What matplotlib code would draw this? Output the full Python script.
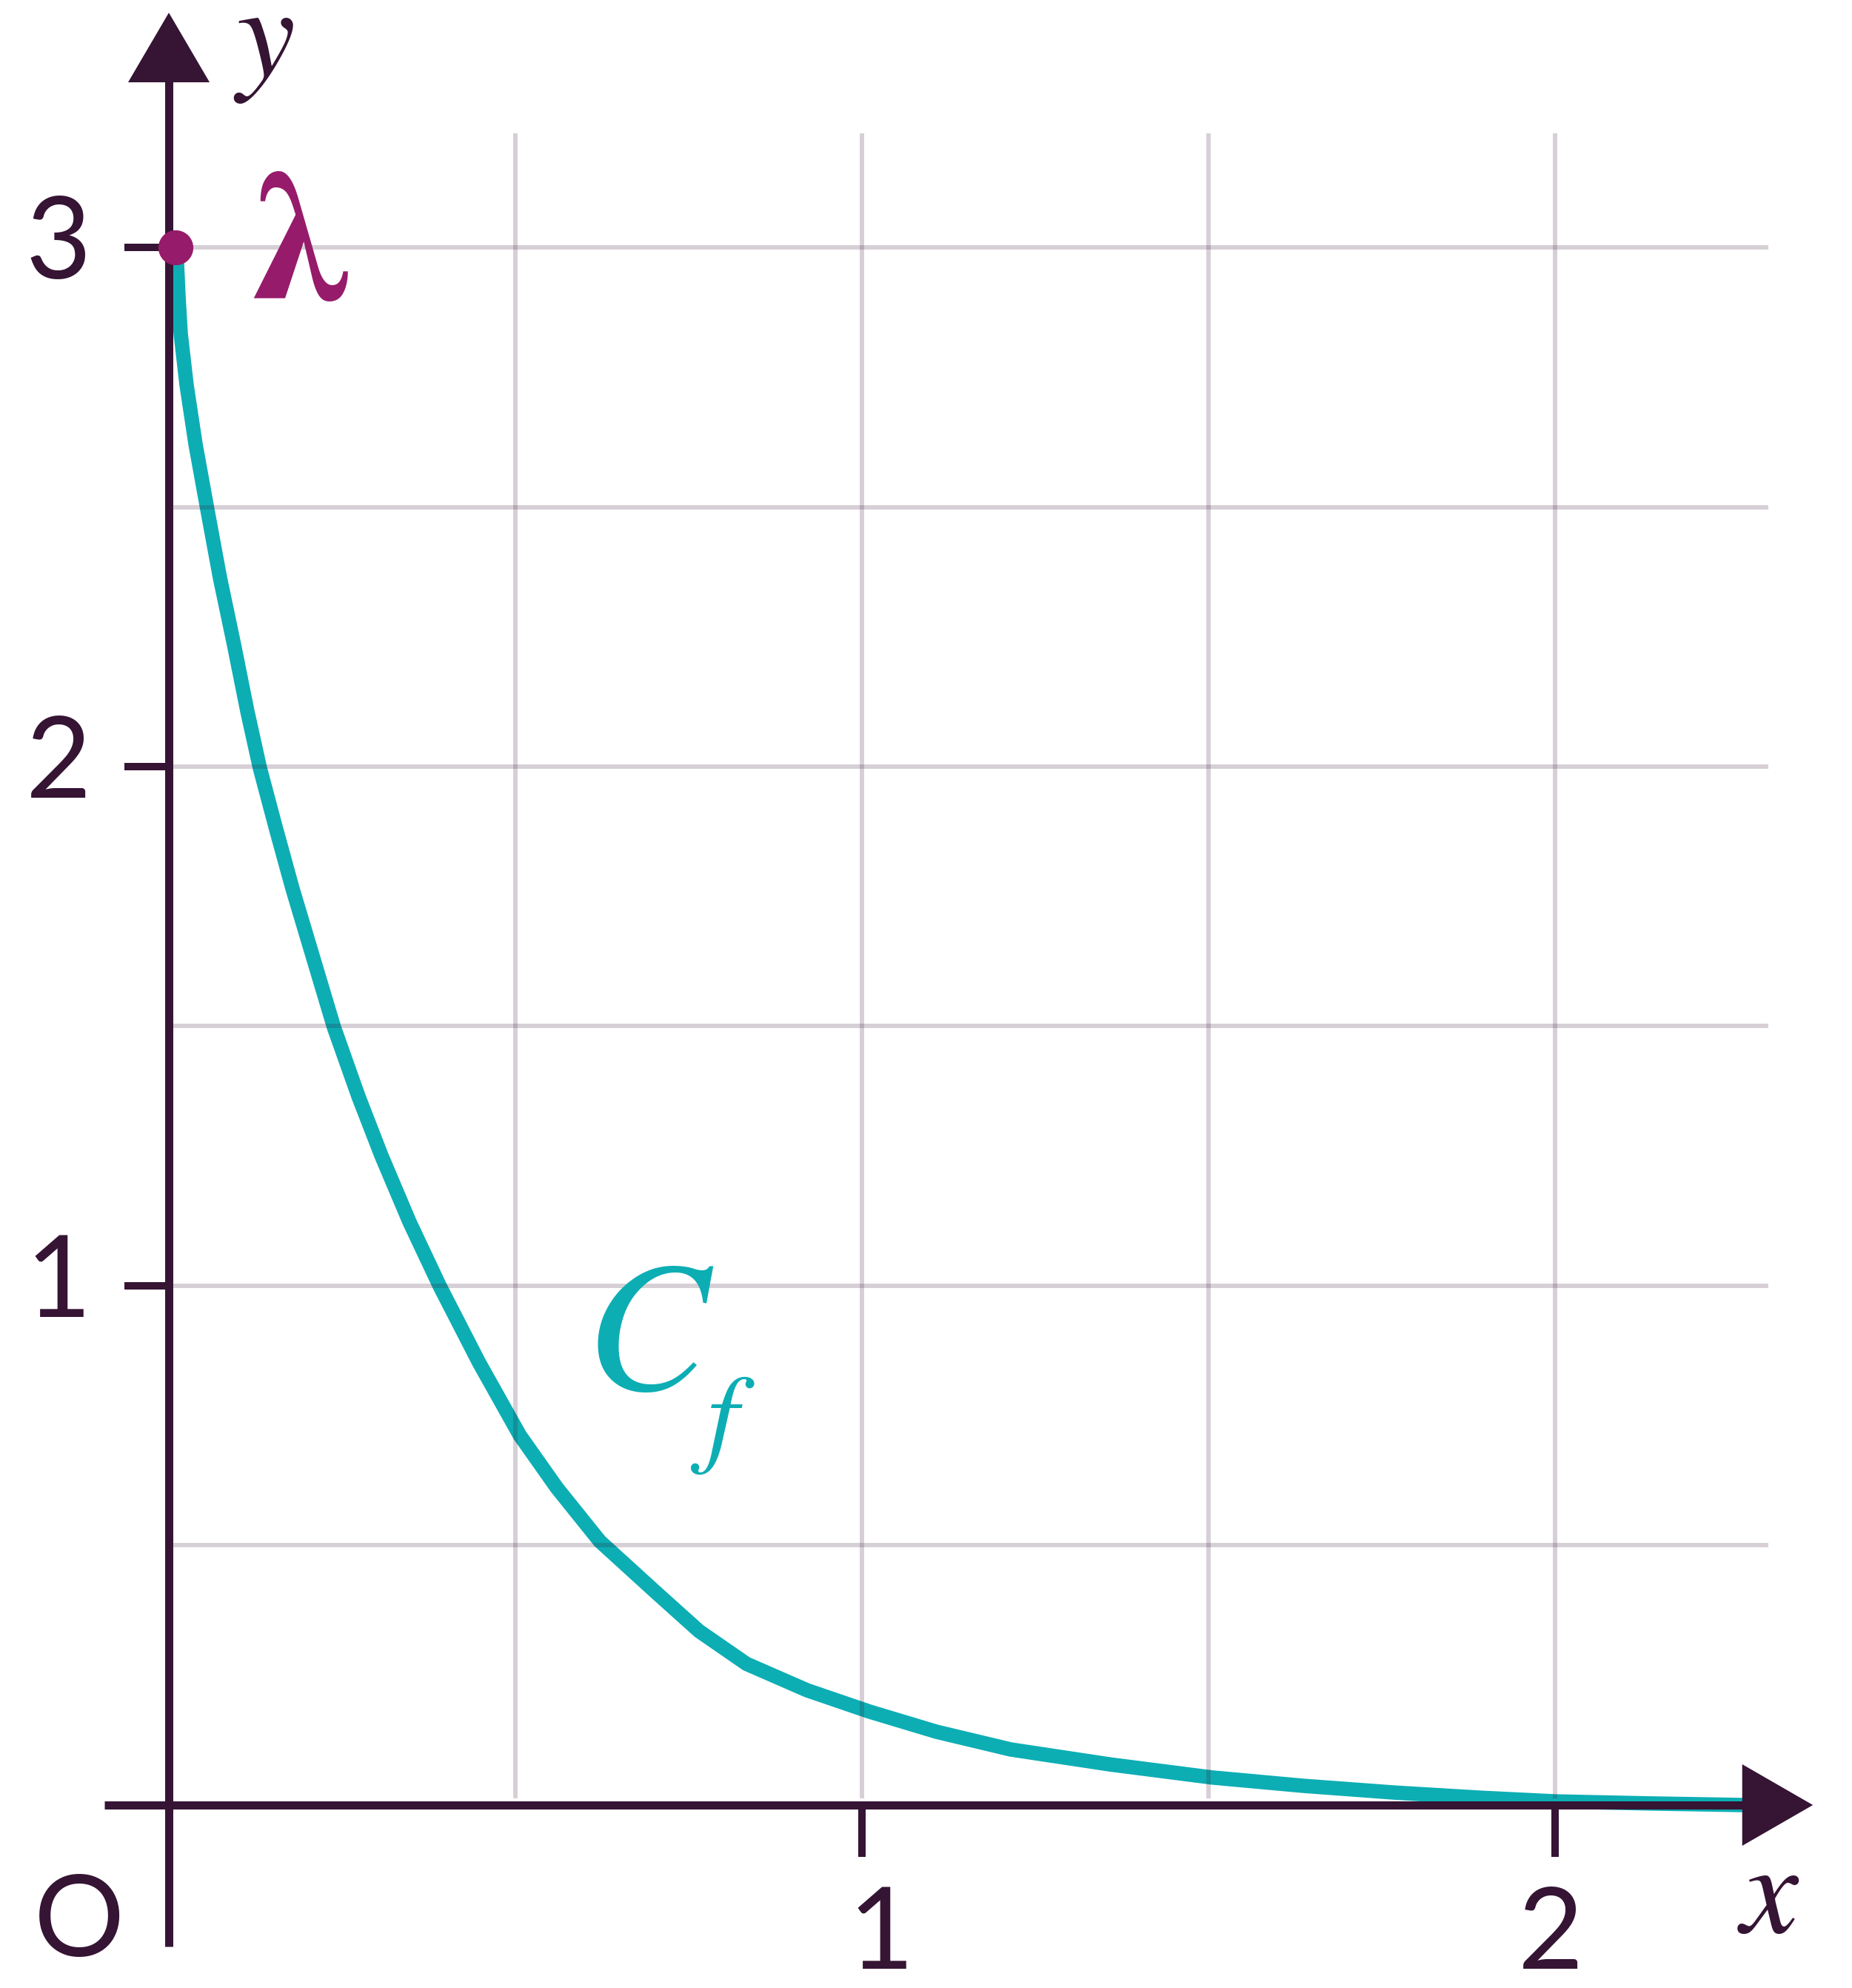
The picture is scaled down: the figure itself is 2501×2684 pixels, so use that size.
import matplotlib
matplotlib.use("Agg")
import matplotlib.pyplot as plt

# curve C_f, values
curve_x = [0.0107, 0.0139, 0.0171, 0.0256, 0.0385, 0.0556, 0.0737, 0.0940, 0.1132, 0.1314,
           0.1549, 0.1784, 0.2073, 0.2382, 0.2735, 0.3066, 0.3472, 0.3910, 0.4476, 0.5064,
           0.5598, 0.6218, 0.7041, 0.7650, 0.8333, 0.9209, 1.0107, 1.1079, 1.2147, 1.3590,
           1.5053, 1.6368, 1.7682, 1.8932, 2.0000, 2.1389, 2.2703]
curve_y = [3.000, 2.906, 2.834, 2.735, 2.621, 2.495, 2.364, 2.235, 2.107, 1.997,
           1.879, 1.765, 1.636, 1.498, 1.365, 1.251, 1.123, 0.999, 0.852, 0.712,
           0.611, 0.508, 0.408, 0.335, 0.272, 0.221, 0.180, 0.141, 0.107, 0.078,
           0.053, 0.037, 0.024, 0.014, 0.007, 0.003, 0.000]

grid_x = [0.5, 1.0, 1.5, 2.0]
grid_y = [0.5, 1.0, 1.5, 2.0, 2.5, 3.0]
xtick_vals = [1, 2]
ytick_vals = [1, 2, 3]
lam_x, lam_y = 0.01, 3.0

INK = "#351434"
TEAL = "#0caeb4"
MAGENTA = "#961b6a"

plt.rcParams["mathtext.fontset"] = "stix"

fig = plt.figure(figsize=(25.01, 26.84), dpi=100)
ax = fig.add_axes([0, 0, 1, 1])
ax.set_xlim(-0.2436, 2.4284)
ax.set_ylim(-0.3524, 3.4765)
ax.axis("off")

# curve
ax.plot(curve_x, curve_y, color=TEAL, lw=14, solid_capstyle="butt",
        solid_joinstyle="round", zorder=2)

# grid (semi transparent, drawn over the curve)
for gx in grid_x:
    ax.plot([gx, gx], [0.013, 3.22], color=INK, alpha=0.2, lw=4.3,
            solid_capstyle="butt", zorder=3)
for gy in grid_y:
    ax.plot([0.005, 2.308], [gy, gy], color=INK, alpha=0.2, lw=4.3,
            solid_capstyle="butt", zorder=3)

# axes with arrow heads
x_start, x_base, x_tip = -0.093, 2.270, 2.372
y_start, y_base, y_tip = -0.272, 3.318, 3.452
hx, hy = 0.0785, 0.0588
ax.plot([x_start, x_base + 0.01], [0, 0], color=INK, lw=7.9, solid_capstyle="butt", zorder=4)
ax.plot([0, 0], [y_start, y_base + 0.01], color=INK, lw=7.9, solid_capstyle="butt", zorder=4)
ax.fill([x_base, x_tip, x_base], [-hx, 0, hx], color=INK, lw=0, zorder=4)
ax.fill([-hy, 0, hy], [y_base, y_tip, y_base], color=INK, lw=0, zorder=4)

# ticks and tick labels
num_font = dict(family="Lato", fontweight="normal", fontsize=110, color=INK)
for v in ytick_vals:
    ax.plot([-0.064, 0], [v, v], color=INK, lw=7.2, solid_capstyle="butt", zorder=4)
    ax.text(-0.112, v - 0.06, str(v), ha="right", va="baseline", **num_font)
xlab_shift = {1: 0.027, 2: -0.006}
for v in xtick_vals:
    ax.plot([v, v], [0, -0.1], color=INK, lw=7.2, solid_capstyle="butt", zorder=4)
    ax.text(v + xlab_shift[v], -0.315, str(v), ha="center", va="baseline", **num_font)
ax.text(-0.129, -0.291, "O", ha="center", va="baseline", **num_font)

# axis names
ax.text(0.093, 3.330, r"$y$", ha="left", va="baseline", fontsize=128, color=INK)
ax.text(2.263, -0.245, r"$x$", ha="left", va="baseline", fontsize=126, color=INK)

# lambda point
ax.plot([lam_x], [lam_y], "o", ms=34, color=MAGENTA, mew=0, zorder=5)
ax.text(0.117, 2.900, "λ", ha="left", va="baseline", fontsize=180,
        family="STIXGeneral", fontweight="bold", color=MAGENTA)

# curve name
ax.text(0.600, 0.800, r"$C$", ha="left", va="baseline", fontsize=180, color=TEAL)
ax.text(0.752, 0.840, r"$f$", ha="left", va="top", fontsize=108, color=TEAL)

fig.savefig("out.png", dpi=100)
